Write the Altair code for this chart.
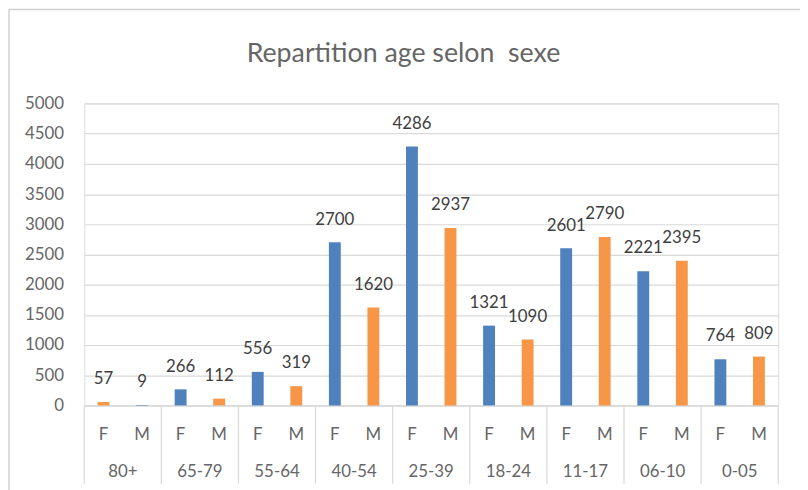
import altair as alt
import pandas as pd

groupes = ["80+", "65-79", "55-64", "40-54", "25-39", "18-24", "11-17", "06-10", "0-05"]
sexes = ["F", "M"]
valeurs_F = [57, 266, 556, 2700, 4286, 1321, 2601, 2221, 764]
valeurs_M = [9, 112, 319, 1620, 2937, 1090, 2790, 2395, 809]
# series used for colouring each bar (as in the source workbook)
serie_F = ["B", "A", "A", "A", "A", "A", "A", "A", "A"]
serie_M = ["A", "B", "B", "B", "B", "B", "B", "B", "B"]
y_ticks = list(range(0, 5001, 500))
titre = "Repartition age selon\u00a0 sexe"

rows = []
for g, vf, vm, sf, sm in zip(groupes, valeurs_F, valeurs_M, serie_F, serie_M):
    rows.append({"groupe": g, "sexe": "F", "cle": g + "|F", "valeur": vf, "serie": sf})
    rows.append({"groupe": g, "sexe": "M", "cle": g + "|M", "valeur": vm, "serie": sm})
df = pd.DataFrame(rows)
ordre = list(df["cle"])

W, H = 701, 305
FONT = "Lato"
GREY = "#666666"

xscale = alt.Scale(domain=ordre, paddingInner=0, paddingOuter=0)
yscale = alt.Scale(domain=[0, 5000], nice=False)
xaxis = alt.Axis(title=None, labelAngle=0, ticks=False,
                 labelExpr="split(datum.value, '|')[1]",
                 labelPadding=21, labelFontSize=17, labelColor=GREY,
                 labelFont=FONT, domainColor="#D9D9D9", domainWidth=1.2,
                 grid=False)
yaxis = alt.Axis(title=None, values=y_ticks, ticks=False, domain=False,
                 format="d", labelOverlap=False,
                 gridColor="#D9D9D9", gridWidth=1.2, labelPadding=21,
                 labelFontSize=17, labelColor=GREY, labelFont=FONT)

base = alt.Chart(df)

bars = base.mark_bar(width=12).encode(
    x=alt.X("cle:N", scale=xscale, sort=ordre, axis=xaxis),
    y=alt.Y("valeur:Q", scale=yscale, axis=yaxis),
    color=alt.Color("serie:N", scale=alt.Scale(domain=["A", "B"],
                                               range=["#4F81BD", "#F79646"]),
                    legend=None),
)

labels = base.mark_text(baseline="bottom", dy=-14, fontSize=17, font=FONT,
                        color="#404040").encode(
    x=alt.X("cle:N", scale=xscale, sort=ordre, axis=xaxis),
    y=alt.Y("valeur:Q", scale=yscale, axis=yaxis),
    text=alt.Text("valeur:Q"),
)

df_F = df[df["sexe"] == "F"]
df_M = df[df["sexe"] == "M"]

seps = alt.Chart(df_F).mark_rule(color="#D9D9D9", strokeWidth=1.2).encode(
    x=alt.X("cle:N", scale=xscale, sort=ordre, bandPosition=0, axis=xaxis),
    y=alt.value(H),
    y2=alt.value(H + 79),
)
sep_end = alt.Chart(df_M.tail(1)).mark_rule(color="#D9D9D9", strokeWidth=1.2).encode(
    x=alt.X("cle:N", scale=xscale, sort=ordre, bandPosition=1, axis=xaxis),
    y=alt.value(H),
    y2=alt.value(H + 79),
)
group_labels = alt.Chart(df_M).mark_text(fontSize=17, font=FONT, color=GREY,
                                         baseline="middle").encode(
    x=alt.X("cle:N", scale=xscale, sort=ordre, bandPosition=0, axis=xaxis),
    y=alt.value(H + 67),
    text="groupe:N",
)

title_mark = alt.Chart(pd.DataFrame({"t": [titre]})).mark_text(
    fontSize=27, font=FONT, color=GREY, baseline="middle", align="center").encode(
    x=alt.value(W / 2 - 28), y=alt.value(-50), text="t:N")

frame_left = alt.Chart(df.head(1)).mark_rule(color="#D0D0D0", strokeWidth=1.5).encode(
    x=alt.value(-76), y=alt.value(-95), y2=alt.value(H + 90))
frame_top = alt.Chart(df.head(1)).mark_rule(color="#D0D0D0", strokeWidth=1.5).encode(
    x=alt.value(-76), x2=alt.value(W + 30), y=alt.value(-95))

chart = alt.layer(bars, labels, seps, sep_end, group_labels, title_mark,
                  frame_left, frame_top).properties(
    width=W, height=H,
    autosize=alt.AutoSizeParams(type="none"),
    padding={"left": 77, "top": 94, "right": 22, "bottom": 83},
).configure_view(stroke=None).configure(background="white")

chart.save("out.html", embed_options={"renderer": "svg", "actions": False})
